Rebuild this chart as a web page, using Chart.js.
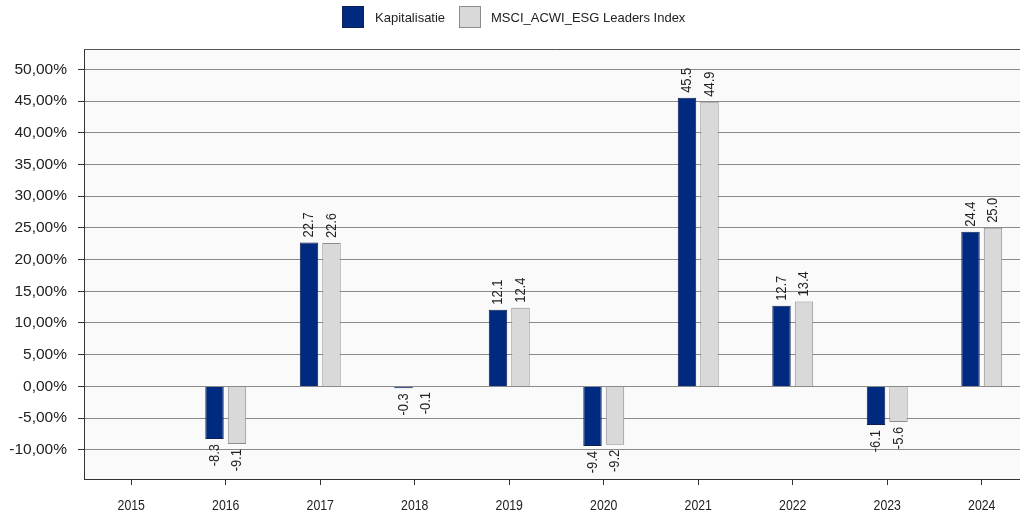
<!DOCTYPE html>
<html>
<head>
<meta charset="utf-8">
<script src="https://cdn.jsdelivr.net/npm/chart.js@4.4.1/dist/chart.umd.min.js"></script>
<style>
    body { margin: 0; background: #fff; overflow: hidden; }
</style>
</head>
<body>
<canvas id="returnsChart" width="1029" height="518"></canvas>
<script>
const years = ['2015', '2016', '2017', '2018', '2019', '2020', '2021', '2022', '2023', '2024'];
const kapitalisatie = [null, -8.3, 22.7, -0.3, 12.1, -9.4, 45.5, 12.7, -6.1, 24.4];
const msciEsgLeaders = [null, -9.1, 22.6, -0.1, 12.4, -9.2, 44.9, 13.4, -5.6, 25.0];
const yTickValues = [-10, -5, 0, 5, 10, 15, 20, 25, 30, 35, 40, 45, 50];
const seriesNames = ['Kapitalisatie', 'MSCI_ACWI_ESG Leaders Index'];

const regularFont = "'Liberation Sans', Arial, sans-serif";

// light plot background + top border line
const plotFrame = {
    id: 'plotFrame',
    beforeDraw(chart) {
        const { ctx, chartArea } = chart;
        ctx.save();
        ctx.fillStyle = '#fafafa';
        ctx.fillRect(chartArea.left, chartArea.top, chartArea.right - chartArea.left, chartArea.bottom - chartArea.top);
        ctx.restore();
    },
    afterDraw(chart) {
        const { ctx, chartArea } = chart;
        ctx.save();
        ctx.strokeStyle = '#555';
        ctx.lineWidth = 1;
        ctx.beginPath();
        ctx.moveTo(chartArea.left, chartArea.top + 0.5);
        ctx.lineTo(chartArea.right, chartArea.top + 0.5);
        ctx.stroke();
        ctx.restore();
    }
};

// condensed year labels under the x axis (no narrow font installed)
const narrowYearLabels = {
    id: 'narrowYearLabels',
    afterDraw(chart) {
        const { ctx } = chart;
        const xScale = chart.scales.x;
        ctx.save();
        ctx.font = "15px " + regularFont;
        ctx.fillStyle = '#222';
        ctx.textAlign = 'center';
        ctx.textBaseline = 'middle';
        chart.data.labels.forEach((lab, i) => {
            ctx.save();
            ctx.translate(xScale.getPixelForTick(i), 506);
            ctx.scale(0.82, 1);
            ctx.fillText(lab, 0, 0);
            ctx.restore();
        });
        ctx.restore();
    }
};

// rotated value labels above / below each bar (slightly condensed)
const barValueLabels = {
    id: 'barValueLabels',
    afterDatasetsDraw(chart) {
        const ctx = chart.ctx;
        ctx.save();
        ctx.font = "15px " + regularFont;
        ctx.fillStyle = '#222';
        ctx.textBaseline = 'middle';
        chart.data.datasets.forEach((ds, i) => {
            chart.getDatasetMeta(i).data.forEach((bar, j) => {
                const v = ds.data[j];
                if (v === null) return;
                ctx.save();
                ctx.translate(bar.x, v >= 0 ? bar.y - 5 : bar.y + 5);
                ctx.rotate(-Math.PI / 2);
                ctx.scale(0.86, 1);
                ctx.textAlign = v >= 0 ? 'left' : 'right';
                ctx.fillText(v.toFixed(1), 0, 0);
                ctx.restore();
            });
        });
        ctx.restore();
    }
};

// legend boxes at the top
const topLegend = {
    id: 'topLegend',
    afterDraw(chart) {
        const ctx = chart.ctx;
        const items = [{ x: 342, textX: 375 }, { x: 459, textX: 491 }];
        ctx.save();
        ctx.font = "13px " + regularFont;
        ctx.textBaseline = 'middle';
        ctx.textAlign = 'left';
        chart.data.datasets.forEach((ds, i) => {
            ctx.fillStyle = ds.backgroundColor;
            ctx.fillRect(items[i].x, 6, 22, 22);
            ctx.strokeStyle = ds.borderColor;
            ctx.lineWidth = 1;
            ctx.strokeRect(items[i].x + 0.5, 6.5, 21, 21);
            ctx.fillStyle = '#222';
            ctx.fillText(ds.label, items[i].textX, 18);
        });
        ctx.restore();
    }
};

new Chart('returnsChart', {
    type: 'bar',
    data: {
        labels: years,
        datasets: [
            {
                label: seriesNames[0],
                data: kapitalisatie,
                backgroundColor: '#002a7f',
                borderColor: '#0d1f55',
                borderWidth: 1,
            },
            {
                label: seriesNames[1],
                data: msciEsgLeaders,
                backgroundColor: '#d9d9d9',
                borderColor: '#8c8c8c',
                borderWidth: 1,
            }
        ]
    },
    options: {
        responsive: false,
        animation: false,
        categoryPercentage: 0.476,
        barPercentage: 0.82,
        layout: { padding: { top: 49, left: 0, right: 0, bottom: 0 } },
        scales: {
            x: {
                afterFit: (scale) => { scale.height = 39; },
                grid: {
                    offset: false,
                    drawOnChartArea: false,
                    drawTicks: true,
                    tickLength: 6,
                    tickColor: '#333',
                },
                border: { color: '#333', width: 1 },
                ticks: {
                    color: 'rgba(0,0,0,0)', // drawn condensed by narrowYearLabels
                    padding: 12,
                    font: { family: regularFont, size: 13 },
                }
            },
            y: {
                min: -14.6,
                max: 53.2,
                afterFit: (scale) => { scale.width = 84; },
                afterBuildTicks: (scale) => {
                    scale.ticks = yTickValues.map(v => ({ value: v }));
                },
                grid: {
                    color: '#8a8a8a',
                    lineWidth: 1,
                    tickLength: 6,
                    tickColor: '#333',
                },
                border: { color: '#333', width: 1 },
                ticks: {
                    color: '#222',
                    padding: 11,
                    font: { family: regularFont, size: 15.5 },
                    callback: (value) => value.toFixed(2).replace('.', ',') + '%'
                }
            }
        },
        plugins: {
            legend: { display: false },
            title: { display: false },
            tooltip: { enabled: false }
        }
    },
    plugins: [plotFrame, narrowYearLabels, barValueLabels, topLegend]
});
</script>
</body>
</html>
